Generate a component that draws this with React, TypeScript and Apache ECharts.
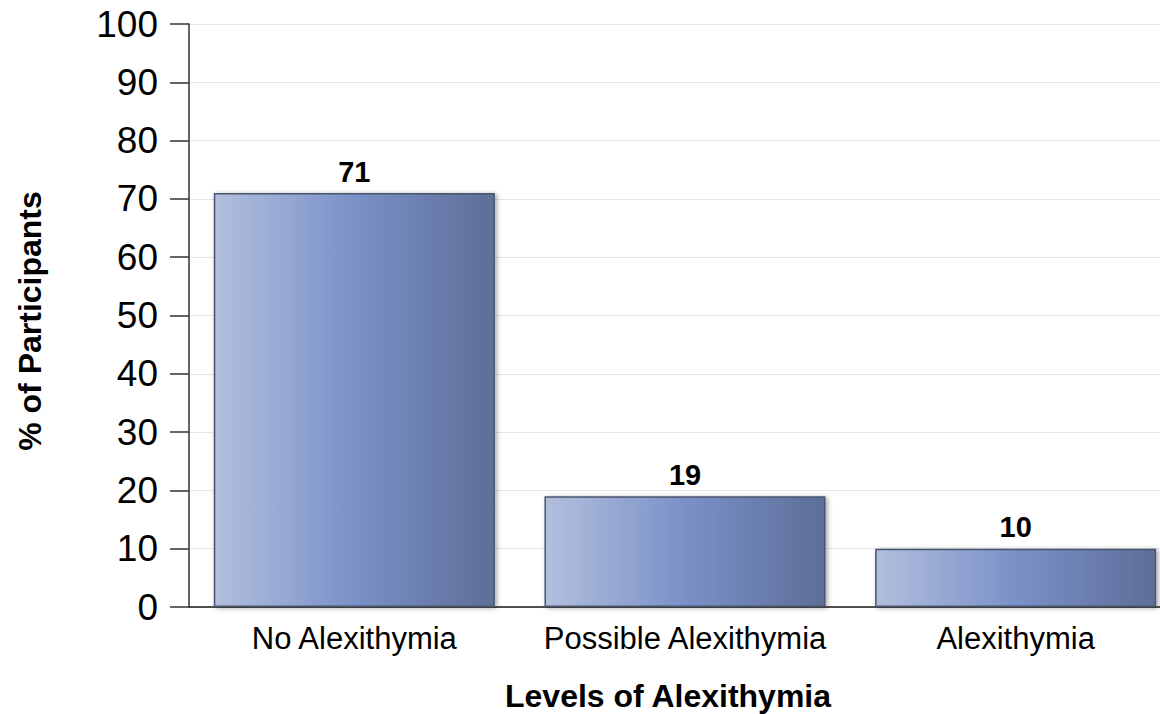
import React, { useEffect, useRef } from "react";
import * as echarts from "echarts";

const categories = ["No Alexithymia", "Possible Alexithymia", "Alexithymia"];
const values = [71, 19, 10];
const yTicks = [0, 10, 20, 30, 40, 50, 60, 70, 80, 90, 100];
const xTitle = "Levels of Alexithymia";
const yTitle = "% of Participants";

const FONT = "Arial, 'Liberation Sans', Helvetica, sans-serif";

export default function App() {
  const ref = useRef<HTMLDivElement>(null);
  useEffect(() => {
    if (!ref.current) return;
    const chart = echarts.init(ref.current, undefined, { renderer: "svg" });
    chart.setOption({
      animation: false,
      backgroundColor: "#ffffff",
      grid: { left: 189, right: 0, top: 24, bottom: 107, containLabel: false },
      xAxis: {
        type: "category",
        data: categories,
        axisLine: { show: true, lineStyle: { color: "#1a1a1a", width: 1.5 } },
        axisTick: { show: false },
        axisLabel: { color: "#000", fontSize: 31, fontFamily: FONT, margin: 16, interval: 0 },
        splitLine: { show: false },
      },
      yAxis: {
        type: "value",
        min: yTicks[0],
        max: yTicks[yTicks.length - 1],
        interval: 10,
        axisLine: { show: true, lineStyle: { color: "#333", width: 1.5 } },
        axisTick: { show: true, length: 19, lineStyle: { color: "#333", width: 1.5 } },
        axisLabel: { color: "#000", fontSize: 37, fontFamily: FONT, margin: 31 },
        splitLine: { show: true, lineStyle: { color: "#e6e6e6", width: 1 } },
      },
      series: [
        {
          type: "bar",
          data: values,
          barCategoryGap: "15%",
          itemStyle: {
            color: new echarts.graphic.LinearGradient(0, 0, 1, 0, [
              { offset: 0, color: "#b2bfdd" },
              { offset: 0.5, color: "#7a91c8" },
              { offset: 1, color: "#5d6e98" },
            ]),
            borderColor: "#4a5670",
            borderWidth: 1.5,
            shadowColor: "rgba(0,0,0,0.35)",
            shadowBlur: 5,
            shadowOffsetX: 2,
            shadowOffsetY: 1,
          },
          label: {
            show: true,
            position: "top",
            distance: 7,
            color: "#000",
            fontSize: 29,
            fontWeight: "bold",
            fontFamily: FONT,
          },
        },
      ],
      graphic: [
        {
          type: "text",
          x: 668,
          y: 696,
          style: {
            text: xTitle,
            fontSize: 32,
            fontWeight: "bold",
            fontFamily: FONT,
            fill: "#000",
            align: "center",
            verticalAlign: "middle",
          },
        },
        {
          type: "text",
          x: 30,
          y: 321,
          rotation: Math.PI / 2,
          style: {
            text: yTitle,
            fontSize: 32,
            fontWeight: "bold",
            fontFamily: FONT,
            fill: "#000",
            align: "center",
            verticalAlign: "middle",
          },
        },
      ],
    });
    return () => chart.dispose();
  }, []);
  return (
    <div
      style={{
        position: "absolute",
        left: 0,
        top: 0,
        width: 1160,
        height: 714,
        overflow: "hidden",
        background: "#fff",
      }}
    >
      <div ref={ref} style={{ width: 1181, height: 714 }} />
    </div>
  );
}
